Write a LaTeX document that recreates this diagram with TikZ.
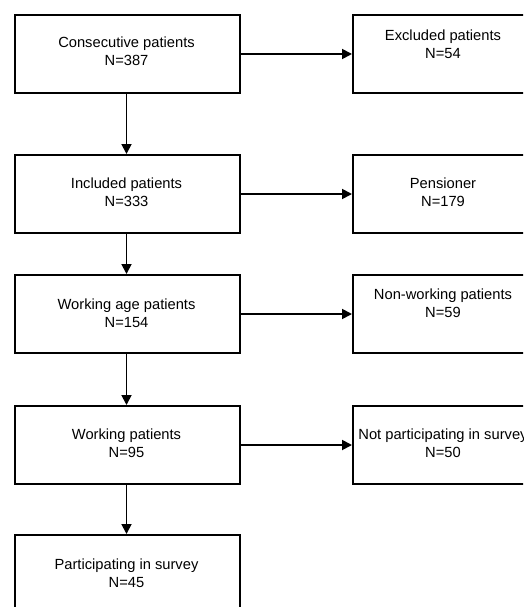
\documentclass[tikz,border=0pt]{standalone}
\usepackage{fontspec}
\setmainfont{Liberation Sans}
\usetikzlibrary{arrows.meta,calc}
\begin{document}
\begin{tikzpicture}[x=1pt,y=-1pt,
  box/.style={draw=black,line width=2pt,minimum width=225pt,minimum height=78pt,inner sep=0pt,anchor=north west},
  rbox/.style={draw=black,line width=2pt,minimum width=182pt,minimum height=78pt,inner sep=0pt,anchor=north west},
  lbl/.style={align=center,font=\fontsize{14.7}{17.8}\selectfont,inner sep=0pt},
  arr/.style={line width=1.8pt,-{Triangle[length=10pt,width=10pt]}}]
\useasboundingbox (0,0) rectangle (523,607);
\clip (0,0) rectangle (523,607);
\fill[white] (0,0) rectangle (523,607);
% left column boxes
\node[box] (b1) at (14,14) {};
\node[box] (b2) at (14,154) {};
\node[box] (b3) at (14,274) {};
\node[box] (b4) at (14,405) {};
\node[box] (b5) at (14,534) {};
% right column boxes
\node[rbox] (r1) at (352,14) {};
\node[rbox] (r2) at (352,154) {};
\node[rbox] (r3) at (352,274) {};
\node[rbox] (r4) at (352,405) {};
% texts
\node[lbl] (t1) at (126.5,51.5) {Consecutive patients\\N=387};
\node[lbl] (t2) at (126.5,192) {Included patients\\N=333};
\node[lbl] (t3) at (126.5,313) {Working age patients\\N=154};
\node[lbl] (t4) at (126.5,443) {Working patients\\N=95};
\node[lbl] (t5) at (126.5,573) {Participating in survey\\N=45};
\node[lbl] (s1) at (443,44) {Excluded patients\\N=54};
\node[lbl] (s2) at (443,192) {Pensioner\\N=179};
\node[lbl] (s3) at (443,303.5) {Non-working patients\\N=59};
\node[lbl] (s4) at (443,443) {Not participating in survey\\N=50};
% vertical arrows
\draw[arr] (b1.south -| t1) -- (b2.north -| t1);
\draw[arr] (b2.south -| t1) -- (b3.north -| t1);
\draw[arr] (b3.south -| t1) -- (b4.north -| t1);
\draw[arr] (b4.south -| t1) -- (b5.north -| t1);
% horizontal arrows
\draw[arr] (b1.east) -- (r1.west);
\draw[arr] (b2.east) -- (r2.west);
\draw[arr] (b3.east) -- (r3.west);
\draw[arr] (b4.east) -- (r4.west);
\end{tikzpicture}
\end{document}
